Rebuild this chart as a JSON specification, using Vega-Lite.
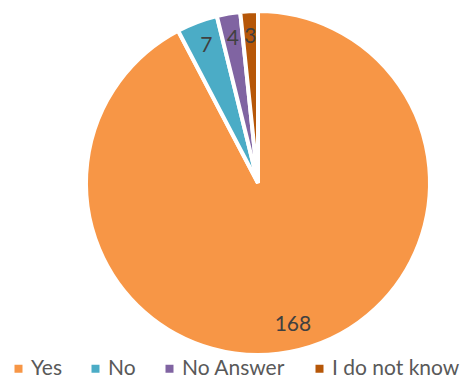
{
  "$schema": "https://vega.github.io/schema/vega-lite/v6.json",
  "autosize": {"type": "none"},
  "width": 406,
  "height": 366,
  "padding": {"left": 55, "top": 0, "right": 0, "bottom": 14},
  "background": "white",
  "data": {"values": [
    {"answer": "Yes", "count": 168},
    {"answer": "No", "count": 7},
    {"answer": "No Answer", "count": 4},
    {"answer": "I do not know", "count": 3}
  ]},
  "encoding": {
    "theta": {"field": "count", "type": "quantitative", "stack": true},
    "order": {"field": "count", "type": "quantitative", "sort": "descending"},
    "color": {
      "field": "answer", "type": "nominal",
      "sort": ["Yes", "No", "No Answer", "I do not know"],
      "scale": {"domain": ["Yes", "No", "No Answer", "I do not know"], "range": ["#F79646", "#4BACC6", "#8064A2", "#B65708"]},
      "legend": {
        "title": null, "orient": "none", "direction": "horizontal",
        "legendX": -47, "legendY": 358,
        "symbolType": "square", "symbolSize": 64, "symbolStrokeWidth": 0,
        "labelFont": "Lato", "labelFontSize": 21, "labelColor": "#595959",
        "columnPadding": 23, "symbolOffset": 0, "labelOffset": 2
      }
    }
  },
  "layer": [
    {"mark": {"type": "arc", "outerRadius": 172, "stroke": "white", "strokeWidth": 4}},
    {"mark": {"type": "text", "radius": 146, "font": "Lato", "fontSize": 21, "fill": "#404040"},
     "encoding": {"text": {"field": "count", "type": "quantitative"}, "color": {"value": "#404040"}}}
  ]
}
